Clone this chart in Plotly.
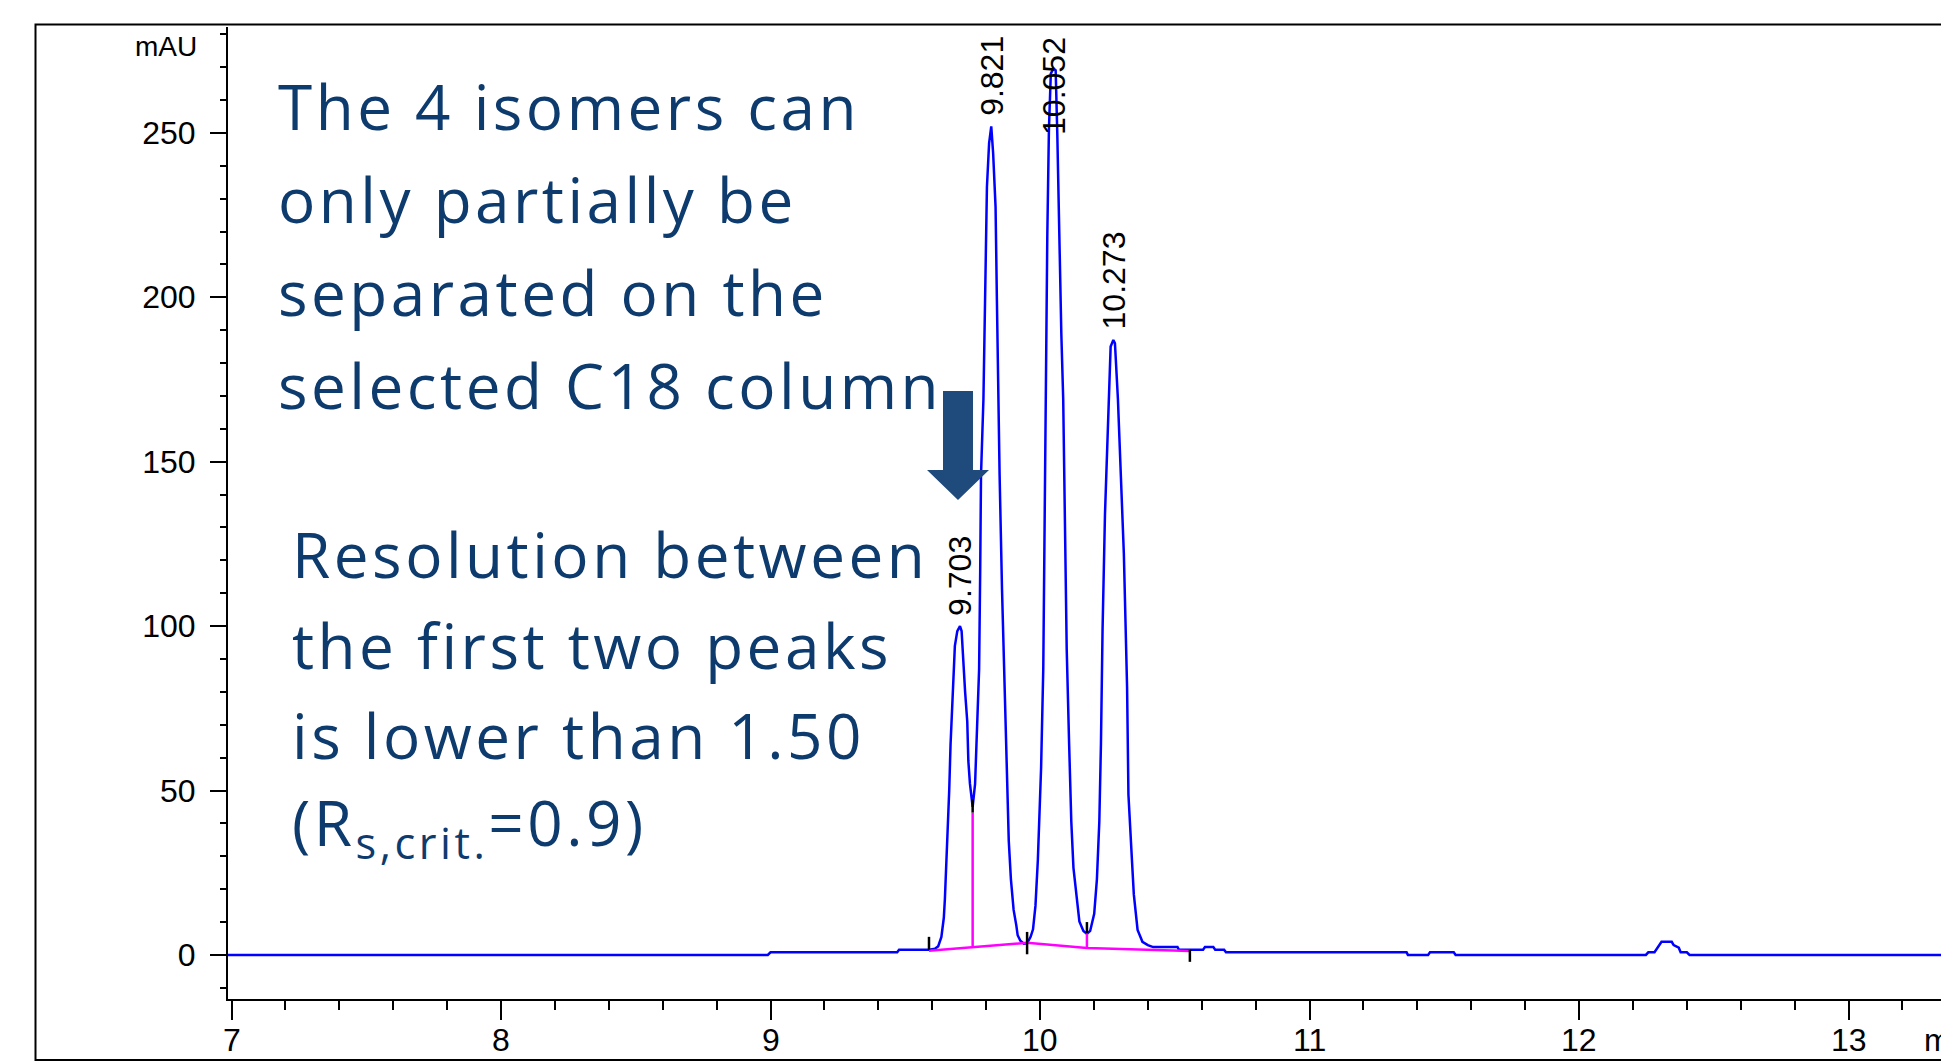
import plotly.graph_objects as go

# ---------------- data ----------------
time_min = [6.987, 8.99, 9.00, 9.47, 9.477, 9.59, 9.61, 9.622, 9.634, 9.643, 9.647, 9.653,
            9.659, 9.663, 9.668, 9.676, 9.684, 9.693, 9.703, 9.709, 9.713, 9.722, 9.730,
            9.734, 9.740, 9.750, 9.759, 9.768, 9.774, 9.778, 9.781, 9.790, 9.797, 9.803,
            9.811, 9.819, 9.826, 9.835, 9.840, 9.845, 9.850, 9.859, 9.867, 9.875, 9.884,
            9.892, 9.902, 9.912, 9.917, 9.927, 9.940, 9.952, 9.965, 9.974, 9.983, 9.992,
            9.999, 10.004, 10.012, 10.017, 10.022, 10.027, 10.033, 10.040, 10.050, 10.058,
            10.064, 10.071, 10.079, 10.086, 10.092, 10.099, 10.108, 10.116, 10.124, 10.136,
            10.146, 10.161, 10.174, 10.186, 10.201, 10.211, 10.220, 10.226, 10.232, 10.241,
            10.255, 10.262, 10.272, 10.278, 10.289, 10.300, 10.311, 10.323, 10.328, 10.341,
            10.348, 10.362, 10.369, 10.380, 10.400, 10.420, 10.510, 10.515, 10.605, 10.612,
            10.643, 10.650, 10.683, 10.690, 11.360, 11.365, 11.440, 11.447, 11.535, 11.542,
            12.248, 12.257, 12.280, 12.287, 12.295, 12.306, 12.344, 12.351, 12.370, 12.377,
            12.400, 12.410, 13.343]
absorbance_mau = [0.0, 0.0, 0.8, 0.8, 1.6, 1.6, 1.9, 2.6, 5.5, 11.3, 17.0, 29.0,
                  37.0, 50.0, 64.0, 81.5, 94.0, 98.5, 100.0, 98.5, 92.0, 80.0, 71.0,
                  59.0, 52.0, 45.0, 52.0, 70.0, 87.0, 117.0, 146.0, 169.0, 209.0, 233.6,
                  246.8, 252.0, 243.8, 227.5, 199.0, 169.0, 146.0, 111.0, 87.0, 60.5, 34.7,
                  23.0, 13.7, 9.0, 6.0, 4.3, 3.4, 3.5, 5.5, 7.8, 14.9, 29.0,
                  43.0, 57.0, 87.0, 134.0, 169.0, 219.0, 251.0, 268.0, 269.6, 269.0,
                  250.0, 219.0, 189.0, 169.0, 134.0, 93.0, 64.0, 40.6, 26.5, 17.2,
                  10.2, 7.3, 6.4, 7.3, 12.5, 23.0, 40.6, 64.0, 99.0, 134.0,
                  169.0, 185.0, 187.0, 186.0, 169.0, 148.0, 122.0, 81.5, 48.8, 28.9,
                  18.4, 7.6, 6.0, 4.0, 3.0, 2.4, 2.4, 1.6, 1.6, 2.4,
                  2.4, 1.6, 1.6, 0.8, 0.8, 0.0, 0.0, 0.8, 0.8, 0.0,
                  0.0, 0.8, 0.8, 1.6, 2.4, 4.0, 4.0, 3.0, 2.2, 0.8,
                  0.8, 0.0, 0.0]

baseline_t = [9.588, 9.750, 9.952, 10.174, 10.556]
baseline_v = [1.3, 2.3, 3.7, 2.1, 1.2]
drop_t = [9.750, 10.174]
drop_top = [43.3, 6.6]
marker_t = [9.588, 9.750, 9.952, 10.174, 10.556]
marker_lo = [1.6, 43.3, 0.2, 6.6, -2.1]
marker_hi = [5.5, 47.3, 7.0, 10.0, 1.5]

peak_rt = [9.703, 9.821, 10.052, 10.273]
peak_height = [100.0, 252.0, 269.6, 187.0]
peak_labels = ["9.703", "9.821", "10.052", "10.273"]

x_ticks = [7, 8, 9, 10, 11, 12, 13]
y_ticks = [0, 50, 100, 150, 200, 250]

note_top = ["The 4 isomers can", "only partially be", "separated on the", "selected C18 column"]
note_bottom = ["Resolution between", "the first two peaks", "is lower than 1.50",
               "(R<sub>s,crit.</sub>=0.9)"]

# ---------------- layout geometry ----------------
W, H = 1941, 1061
PL, PR, PT, PB = 228, 1941, 27, 999          # plot area in pixels
X_RANGE = [6.987, 13.343]
Y_RANGE = [-13.4, 282.2]


def px(x):
    return (x - PL) / (PR - PL)


def py(y):
    return (PB - y) / (PB - PT)


NAVY = "#0d3b6e"
AX_FONT = dict(family="Arial, Liberation Sans, sans-serif", size=32, color="black")

fig = go.Figure()

fig.add_trace(go.Scatter(x=time_min, y=absorbance_mau, mode="lines",
                         line=dict(color="#0000ff", width=2.5), hoverinfo="skip",
                         showlegend=False, cliponaxis=True))

# integration baseline + drop lines
bx, by = list(baseline_t), list(baseline_v)
for t, top in zip(drop_t, drop_top):
    base = baseline_v[baseline_t.index(t)]
    bx += [None, t, t]
    by += [None, base, top]
fig.add_trace(go.Scatter(x=bx, y=by, mode="lines", line=dict(color="#ff00ff", width=2.5),
                         hoverinfo="skip", showlegend=False))

# black integration markers
mx, my = [], []
for t, lo, hi in zip(marker_t, marker_lo, marker_hi):
    mx += [t, t, None]
    my += [lo, hi, None]
fig.add_trace(go.Scatter(x=mx, y=my, mode="lines", line=dict(color="black", width=2.5),
                         hoverinfo="skip", showlegend=False))

annotations = []
# peak retention time labels (rotated)
label_len = 24.5  # label length in data units
for t, h, lab in zip(peak_rt, peak_height, peak_labels):
    if h + 3.5 + label_len > Y_RANGE[1]:
        annotations.append(dict(x=t, y=279.8, xref="x", yref="y", text=lab, showarrow=False,
                                textangle=-90, xanchor="center", yanchor="top", font=AX_FONT))
    else:
        annotations.append(dict(x=t, y=h + 2.5, xref="x", yref="y", text=lab, showarrow=False,
                                textangle=-90, xanchor="center", yanchor="bottom", font=AX_FONT))

# x-axis tick labels (drawn as annotations so they sit where the reference has them)
for v in x_ticks:
    annotations.append(dict(x=v, y=py(1040), xref="x", yref="paper", text=str(v),
                            showarrow=False, xanchor="center", yanchor="middle", font=AX_FONT))

NOTE_FONT = dict(family="Open Sans, sans-serif", size=62, color=NAVY)
SP = '<span style="letter-spacing:3.5px">{}</span>'
for i, line in enumerate(note_top):
    annotations.append(dict(x=px(276), y=py(106 + 93 * i), xref="paper", yref="paper",
                            text=SP.format(line), showarrow=False, xanchor="left",
                            yanchor="middle", font=NOTE_FONT))
for i, line in enumerate(note_bottom):
    annotations.append(dict(x=px(290), y=py(554 + 90.5 * i), xref="paper", yref="paper",
                            text=SP.format(line), showarrow=False, xanchor="left",
                            yanchor="middle", font=NOTE_FONT))

annotations.append(dict(x=px(199), y=py(46), xref="paper", yref="paper", text="mAU",
                        showarrow=False, xanchor="right", yanchor="middle",
                        font=dict(family="Arial, Liberation Sans, sans-serif", size=28, color="black")))
annotations.append(dict(x=px(1922), y=py(1040), xref="paper", yref="paper", text="min",
                        showarrow=False, xanchor="left", yanchor="middle", font=AX_FONT))

# block arrow
pts = [(943, 391), (973, 391), (973, 470), (989, 470), (958, 500), (927, 470), (943, 470)]
path = "M " + " L ".join(f"{px(a):.5f},{py(b):.5f}" for a, b in pts) + " Z"

shapes = [
    dict(type="path", path=path, xref="paper", yref="paper", fillcolor="#1f4a7c",
         line=dict(width=0)),
    dict(type="rect", xref="paper", yref="paper", x0=px(35.5), x1=px(1960), y0=py(1060),
         y1=py(24.5), line=dict(color="black", width=2), fillcolor="rgba(0,0,0,0)",
         layer="below"),
]

fig.update_layout(
    width=W, height=H,
    margin=dict(l=PL, r=W - PR, t=PT, b=H - PB, pad=0, autoexpand=False),
    paper_bgcolor="white", plot_bgcolor="white",
    showlegend=False,
    annotations=annotations,
    shapes=shapes,
    xaxis=dict(range=X_RANGE, tickvals=x_ticks, showticklabels=False,
               automargin=False,
               showgrid=False, zeroline=False, showline=True, linecolor="black", linewidth=2,
               ticks="outside", ticklen=19, tickwidth=2, tickcolor="black",
               minor=dict(dtick=0.2, tick0=7, ticks="outside", ticklen=9, tickwidth=2,
                          tickcolor="black", showgrid=False)),
    yaxis=dict(range=Y_RANGE, tickvals=y_ticks, ticktext=[str(v) for v in y_ticks],
               automargin=False,
               showgrid=False, zeroline=False, showline=True, linecolor="black", linewidth=2,
               ticks="outside", ticklen=16, tickwidth=2, tickcolor="black",
               tickfont=AX_FONT, ticklabelstandoff=8,
               minor=dict(dtick=10, tick0=0, ticks="outside", ticklen=6, tickwidth=2,
                          tickcolor="black", showgrid=False)),
)

fig.write_html("out.html")
